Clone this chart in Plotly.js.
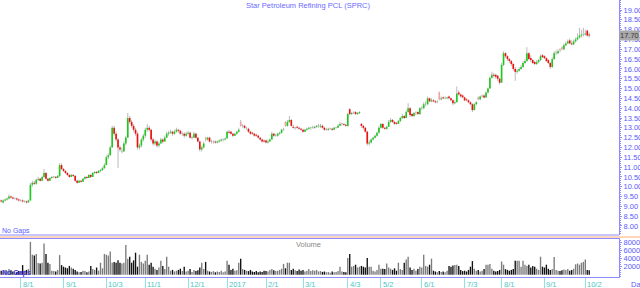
<!DOCTYPE html>
<html><head><meta charset="utf-8">
<script src="https://cdn.plot.ly/plotly-3.0.1.min.js"></script>
<style>html,body{margin:0;padding:0;background:#fff;overflow:hidden}#chart{width:640px;height:288px}</style>
</head><body><div id="chart"></div>
<script>
// ---------------- DATA ----------------
const chartTitle = 'Star Petroleum Refining PCL (SPRC)';
const startDate = '2016-07-14';
const holidays = ['2016-07-19','2016-07-20','2016-08-12','2016-10-24','2016-12-05','2016-12-12',
  '2017-01-02','2017-01-03','2017-02-13','2017-04-06','2017-04-13','2017-04-14','2017-05-01',
  '2017-05-10','2017-07-10','2017-07-28','2017-08-14'];
const lastPrice = 17.70;

const open = [
 9.30,9.20,9.30,9.35,9.40,9.50,9.45,9.40,9.40,9.35,
 9.30,9.30,9.25,9.25,9.20,9.30,10.10,10.20,10.15,10.35,
 10.40,10.30,10.50,10.70,10.40,10.30,10.45,10.50,10.50,10.45,
 10.55,11.10,10.90,10.80,10.70,10.60,10.50,10.60,10.55,10.30,
 10.20,10.30,10.25,10.40,10.50,10.45,10.60,10.50,10.70,10.75,
 10.70,10.80,10.85,10.95,11.10,11.50,11.60,12.00,13.00,12.70,
 12.40,12.00,11.80,11.80,12.20,12.50,13.50,13.30,13.10,12.90,
 12.70,12.00,12.10,12.40,12.60,12.90,13.00,12.90,12.40,12.20,
 12.30,12.10,12.20,12.40,12.30,12.50,12.70,12.75,12.80,12.70,
 12.80,12.90,12.85,12.70,12.70,12.60,12.70,12.75,12.50,12.50,
 12.70,12.50,12.30,11.90,12.00,12.50,12.40,12.50,12.30,12.30,
 12.30,12.25,12.30,12.35,12.40,12.40,12.45,12.80,12.80,12.70,
 12.60,12.70,12.80,13.30,13.10,13.10,12.90,12.95,12.80,12.75,
 12.70,12.65,12.60,12.50,12.40,12.35,12.35,12.25,12.30,12.40,
 12.70,12.60,12.60,12.70,12.75,12.90,13.30,13.10,13.30,13.40,
 13.05,13.00,13.05,13.00,12.95,12.90,12.80,12.90,12.95,13.00,
 13.00,13.00,13.05,13.10,13.05,13.10,13.00,12.90,12.90,12.95,
 12.95,12.90,13.00,13.00,13.10,13.20,13.20,13.15,13.10,13.95,
 13.70,13.75,13.80,13.70,13.75,13.20,13.10,13.00,12.80,12.20,
 12.25,12.40,12.50,12.60,12.75,13.00,13.20,13.00,12.95,13.05,
 13.30,13.40,13.30,13.25,13.20,13.35,13.50,13.60,13.50,13.80,
 14.00,13.70,13.60,13.75,13.80,13.70,14.00,14.00,14.20,14.20,
 14.50,14.35,14.40,14.35,14.30,14.80,14.45,14.55,14.50,14.50,
 14.60,14.50,14.40,14.25,14.30,14.80,14.70,14.65,14.55,14.45,
 14.40,14.30,14.20,13.90,14.20,14.55,14.45,14.60,14.65,14.55,
 14.80,15.00,15.55,15.70,15.70,15.65,15.50,15.30,16.20,16.80,
 16.65,16.50,16.40,16.25,16.00,15.85,15.90,16.00,16.10,16.30,
 16.40,16.80,16.55,16.45,16.35,16.25,16.35,16.45,16.70,16.65,
 16.55,16.45,16.30,16.10,16.50,16.80,16.80,17.00,17.10,17.00,
 17.20,17.30,17.45,17.30,17.25,17.40,17.50,17.60,17.70,17.75,
 17.75,17.95,17.75];
const high = [
 9.35,9.35,9.40,9.45,9.60,9.55,9.50,9.45,9.45,9.40,
 9.35,9.35,9.30,9.30,9.35,10.20,10.30,10.30,10.40,10.50,
 10.45,10.55,10.90,10.75,10.45,10.50,10.55,10.55,10.55,10.60,
 11.20,11.20,10.95,10.85,10.75,10.65,10.65,10.65,10.60,10.35,
 10.35,10.35,10.45,10.55,10.55,10.65,10.65,10.75,10.80,10.80,
 10.85,10.90,11.00,11.20,11.60,11.70,12.10,13.10,13.10,12.80,
 12.50,12.10,12.00,12.30,12.60,13.75,13.60,13.40,13.20,13.00,
 12.80,12.20,12.50,12.70,13.00,13.20,13.10,12.95,12.50,12.40,
 12.35,12.30,12.50,12.45,12.60,12.80,12.85,12.90,12.85,12.90,
 13.00,12.95,12.90,12.80,12.75,12.80,12.85,12.80,12.60,12.80,
 12.75,12.55,12.35,12.10,12.30,12.55,12.55,12.55,12.40,12.35,
 12.35,12.35,12.40,12.45,12.45,12.50,12.85,12.90,12.85,12.75,
 12.75,12.85,13.00,13.40,13.20,13.15,13.05,13.00,12.85,12.80,
 12.75,12.70,12.65,12.55,12.45,12.40,12.40,12.40,12.45,12.80,
 12.75,12.70,12.75,12.80,12.95,13.00,13.35,13.40,13.60,13.45,
 13.15,13.05,13.10,13.05,13.00,12.95,12.95,13.00,13.05,13.05,
 13.10,13.10,13.15,13.20,13.20,13.15,13.05,13.00,13.00,13.00,
 13.00,13.05,13.05,13.20,13.30,13.25,13.25,13.20,13.75,14.00,
 13.80,13.85,13.85,13.80,13.85,13.25,13.15,13.05,12.85,12.35,
 12.45,12.55,12.65,12.80,13.10,13.25,13.25,13.05,13.10,13.40,
 13.50,13.45,13.35,13.30,13.40,13.55,13.70,13.65,13.90,14.25,
 14.05,13.75,13.80,13.85,13.85,14.05,14.10,14.30,14.35,14.60,
 14.55,14.50,14.45,14.40,14.40,14.85,14.60,14.60,14.60,14.60,
 14.65,14.55,14.45,14.40,15.10,14.90,14.75,14.70,14.60,14.50,
 14.45,14.35,14.25,14.25,14.35,14.60,14.65,14.70,14.70,14.85,
 15.05,15.60,15.85,15.80,15.75,15.70,15.55,16.30,16.90,16.85,
 16.70,16.55,16.45,16.30,16.10,16.00,16.10,16.20,16.40,16.50,
 17.10,16.85,16.70,16.50,16.40,16.45,16.50,16.75,16.75,16.70,
 16.60,16.50,16.35,16.60,16.90,16.95,17.00,17.05,17.15,17.30,
 17.40,17.50,17.55,17.45,17.50,17.60,17.80,18.10,18.00,18.10,
 18.00,18.00,17.85];
const low = [
 9.20,9.15,9.25,9.30,9.35,9.40,9.35,9.35,9.30,9.25,
 9.25,9.20,9.20,9.15,9.20,9.30,10.00,10.10,10.10,10.30,
 10.25,10.30,10.45,10.35,10.25,10.30,10.40,10.45,10.40,10.45,
 10.50,10.85,10.75,10.65,10.55,10.45,10.50,10.50,10.25,10.15,
 10.20,10.20,10.25,10.35,10.40,10.45,10.45,10.50,10.65,10.65,
 10.70,10.75,10.80,10.90,11.10,11.40,11.60,12.00,12.60,12.30,
 10.95,11.80,11.70,11.80,12.10,12.50,13.20,13.00,12.80,12.60,
 11.90,11.90,12.00,12.30,12.50,12.80,12.80,12.30,12.10,12.10,
 12.00,12.00,12.20,12.20,12.30,12.50,12.60,12.70,12.60,12.65,
 12.75,12.75,12.65,12.60,12.50,12.55,12.65,12.45,12.40,12.50,
 12.45,12.25,11.80,11.80,11.95,12.30,12.35,12.25,12.20,12.20,
 12.20,12.20,12.25,12.30,12.30,12.35,12.45,12.70,12.65,12.55,
 12.60,12.65,12.75,13.05,13.00,12.95,12.90,12.75,12.65,12.65,
 12.55,12.55,12.45,12.35,12.25,12.25,12.20,12.20,12.30,12.40,
 12.55,12.55,12.55,12.65,12.70,12.85,13.05,13.05,13.25,13.05,
 12.95,12.90,12.95,12.90,12.85,12.75,12.80,12.85,12.90,12.90,
 12.95,12.95,13.00,13.00,13.00,12.95,12.85,12.85,12.85,12.90,
 12.85,12.90,12.95,13.00,13.10,13.10,13.10,13.05,13.05,13.65,
 13.65,13.70,13.65,13.65,13.70,13.00,12.90,12.75,12.10,12.10,
 12.20,12.35,12.45,12.55,12.70,12.95,12.95,12.90,12.90,13.05,
 13.25,13.25,13.15,13.15,13.20,13.30,13.45,13.45,13.50,13.75,
 13.55,13.55,13.55,13.65,13.65,13.65,13.90,13.95,14.10,14.15,
 14.30,14.30,14.30,14.25,14.25,14.40,14.40,14.45,14.45,14.45,
 14.45,14.35,14.15,14.20,14.30,14.65,14.55,14.50,14.35,14.35,
 14.25,14.15,13.80,13.90,14.15,14.40,14.40,14.55,14.50,14.55,
 14.75,15.00,15.50,15.55,15.50,15.40,15.20,15.30,16.15,16.55,
 16.40,16.30,16.15,15.90,15.40,15.75,15.85,15.95,16.05,16.25,
 16.35,16.45,16.35,16.25,16.20,16.20,16.30,16.40,16.55,16.50,
 16.35,16.25,16.00,16.05,16.45,16.70,16.75,16.85,16.95,16.95,
 17.15,17.25,17.25,17.20,17.20,17.35,17.45,17.55,17.60,17.65,
 17.70,17.65,17.60];
const close = [
 9.25,9.30,9.35,9.40,9.50,9.45,9.40,9.40,9.35,9.30,
 9.30,9.25,9.25,9.20,9.30,10.10,10.20,10.15,10.35,10.40,
 10.30,10.50,10.70,10.40,10.30,10.45,10.50,10.50,10.45,10.55,
 11.10,10.90,10.80,10.70,10.60,10.50,10.60,10.55,10.30,10.20,
 10.30,10.25,10.40,10.50,10.45,10.60,10.50,10.70,10.75,10.70,
 10.80,10.85,10.95,11.10,11.50,11.60,12.00,13.00,12.70,12.40,
 12.00,11.90,11.80,12.20,12.50,13.50,13.30,13.10,12.90,12.70,
 12.00,12.10,12.40,12.60,12.90,13.00,12.90,12.40,12.20,12.30,
 12.10,12.20,12.40,12.30,12.50,12.70,12.75,12.80,12.70,12.80,
 12.90,12.85,12.70,12.70,12.60,12.70,12.75,12.50,12.50,12.70,
 12.50,12.30,11.90,12.00,12.20,12.40,12.50,12.30,12.30,12.30,
 12.25,12.30,12.35,12.40,12.40,12.45,12.80,12.75,12.70,12.60,
 12.70,12.80,12.90,13.10,13.10,13.00,12.95,12.80,12.70,12.70,
 12.60,12.60,12.50,12.40,12.30,12.30,12.25,12.30,12.40,12.70,
 12.60,12.60,12.70,12.75,12.90,12.90,13.10,13.30,13.40,13.10,
 13.00,13.00,13.00,12.95,12.90,12.80,12.90,12.95,13.00,13.00,
 13.00,13.05,13.10,13.10,13.10,13.00,12.90,12.90,12.95,12.95,
 12.90,13.00,13.00,13.10,13.20,13.20,13.15,13.10,13.70,13.70,
 13.75,13.75,13.70,13.75,13.80,13.10,13.00,12.80,12.20,12.25,
 12.40,12.50,12.60,12.75,13.00,13.20,13.00,12.95,13.05,13.30,
 13.40,13.30,13.20,13.20,13.35,13.50,13.60,13.50,13.80,14.00,
 13.65,13.60,13.75,13.75,13.70,14.00,14.00,14.20,14.20,14.50,
 14.35,14.40,14.35,14.30,14.30,14.45,14.50,14.50,14.50,14.55,
 14.50,14.40,14.25,14.30,14.75,14.70,14.60,14.55,14.40,14.40,
 14.30,14.20,13.90,14.20,14.30,14.45,14.60,14.60,14.55,14.80,
 15.00,15.55,15.70,15.65,15.60,15.50,15.30,16.20,16.80,16.65,
 16.50,16.40,16.25,16.00,15.85,15.90,16.00,16.10,16.30,16.40,
 16.80,16.50,16.45,16.30,16.25,16.35,16.45,16.65,16.60,16.55,
 16.40,16.30,16.10,16.50,16.80,16.80,16.90,16.95,17.00,17.20,
 17.30,17.40,17.30,17.25,17.40,17.50,17.60,17.70,17.75,17.75,
 17.80,17.70,17.70];
const volume = [
 10000,8000,12000,9000,14000,11000,8000,6000,7000,9000,
 8000,24000,10000,12000,14000,82000,50000,48000,52000,29000,
 28000,30000,78000,52000,30000,27000,10000,9000,8000,12000,
 49000,24000,20000,18000,16000,22000,18000,15000,12000,8000,
 6000,7000,10000,9000,6000,8000,22000,14000,12000,18000,
 10000,30000,16000,52000,50000,48000,58000,30000,32000,30000,
 36000,30000,28000,30000,74000,40000,45000,30000,36000,55000,
 20000,50000,32000,28000,35000,50000,25000,30000,20000,15000,
 12000,18000,35000,22000,14000,45000,20000,10000,12000,8000,
 10000,12000,15000,9000,20000,8000,10000,14000,7000,12000,
 9000,11000,18000,30000,14000,32000,10000,8000,7000,9000,
 6000,8000,7000,10000,6000,8000,35000,25000,12000,15000,
 10000,11000,30000,40000,14000,12000,10000,9000,12000,8000,
 7000,9000,6000,8000,7000,10000,9000,8000,12000,14000,
 11000,9000,10000,12000,15000,27000,16000,30000,30000,12000,
 15000,11000,9000,13000,10000,12000,8000,10000,14000,9000,
 11000,10000,12000,8000,9000,7000,8000,6000,7000,5000,
 8000,6000,7000,9000,20000,8000,7000,6000,42000,52000,
 20000,22000,25000,18000,20000,22000,20000,18000,42000,20000,
 20000,10000,8000,12000,25000,15000,15000,14000,28000,18000,
 15000,12000,16000,10000,30000,14000,12000,30000,38000,45000,
 18000,12000,15000,10000,14000,20000,18000,50000,22000,20000,
 25000,40000,10000,8000,6000,9000,7000,8000,6000,10000,
 22000,20000,23000,24000,25000,22000,12000,9000,10000,8000,
 12000,20000,34000,15000,10000,12000,8000,10000,14000,25000,
 25000,27000,15000,10000,8000,9000,12000,33000,25000,14000,
 12000,10000,12000,14000,35000,35000,35000,20000,35000,25000,
 22000,25000,18000,22000,20000,15000,12000,45000,20000,18000,
 25000,15000,12000,14000,44000,12000,10000,9000,11000,13000,
 12000,14000,10000,12000,15000,26000,28000,25000,30000,32000,
 38000,12000,11000];

// ---------------- BUILD ----------------
const dates = [];
{
  const d = new Date(startDate + 'T00:00:00Z');
  while (dates.length < close.length) {
    const iso = d.toISOString().slice(0, 10);
    const wd = d.getUTCDay();
    if (wd !== 0 && wd !== 6 && !holidays.includes(iso)) dates.push(iso);
    d.setUTCDate(d.getUTCDate() + 1);
  }
}
const idx = dates.map((_, i) => i);
const tickIdx = [], tickText = [];
for (let i = 1; i < dates.length; i++) {
  if (dates[i].slice(5, 7) !== dates[i - 1].slice(5, 7)) {
    const m = +dates[i].slice(5, 7), dd = +dates[i].slice(8, 10);
    tickIdx.push(i);
    tickText.push(m === 1 ? dates[i].slice(0, 4) : m + '/' + dd);
  }
}

const bodyBase = idx.map(i => Math.min(open[i], close[i]));
const bodyLen = idx.map(i => Math.max(Math.abs(close[i] - open[i]), 0.03));
const bodyColor = idx.map(i => {
  const o = open[i], c = close[i], p = i > 0 ? close[i - 1] : o;
  if (c > o) return c >= p ? '#1fc81f' : '#9ee49e';
  if (c < o) return c <= p ? '#ee1010' : '#f6a0a0';
  return '#a8a8a8';
});
const wickLen = idx.map(i => high[i] - low[i]);
const volColor = idx.map(i => close[i] >= open[i] ? '#7c7c7c' : '#111111');

const plotW = 619, plotH = 277;
const mainBottomPx = 235, volTopPx = 239;
const priceTicks = [];
for (let v = 8; v <= 19.001; v += 0.5) priceTicks.push(+v.toFixed(2));

const blue = '#8c8cff', labelBlue = '#5a5aff';

const traces = [
  {type: 'bar', x: idx, y: wickLen, base: low, width: 0.5, xaxis: 'x', yaxis: 'y',
   marker: {color: '#b9b9b9', line: {width: 0}}, hoverinfo: 'skip'},
  {type: 'bar', x: idx, y: bodyLen, base: bodyBase, width: 0.85, xaxis: 'x', yaxis: 'y',
   marker: {color: bodyColor, line: {width: 0}}, hoverinfo: 'skip'},
  {type: 'bar', x: idx, y: volume, width: 0.7, xaxis: 'x', yaxis: 'y2',
   marker: {color: volColor, line: {width: 0}}, hoverinfo: 'skip'}
];

const annotations = tickIdx.map((t, k) => ({
  x: t, xref: 'x', y: 0, yref: 'paper', xanchor: 'left', yanchor: 'top', yshift: -1, xshift: 0,
  text: tickText[k], showarrow: false, font: {size: 7.5, color: '#4cc6c6'}
}));
annotations.push(
  {x: 629 / plotW, xref: 'paper', y: 0, yref: 'paper', xanchor: 'left', yanchor: 'top', yshift: -1,
   text: 'Date', showarrow: false, font: {size: 7.5, color: labelBlue}},
  {x: 0, xref: 'paper', y: 1 - 231 / plotH, yref: 'paper', xanchor: 'left', yanchor: 'middle',
   text: 'No Gaps', showarrow: false, font: {size: 7, color: labelBlue}},
  {x: 0, xref: 'paper', y: 1 - 273 / plotH, yref: 'paper', xanchor: 'left', yanchor: 'middle',
   text: '<b>No Gaps</b>', showarrow: false, font: {size: 7, color: '#3b3bd8'}},
  {x: 308 / plotW, xref: 'paper', y: 1 - 244 / plotH, yref: 'paper', xanchor: 'center', yanchor: 'middle',
   text: 'Volume', showarrow: false, font: {size: 7.5, color: '#8a8a8a'}},
  {x: 1, xref: 'paper', y: lastPrice, yref: 'y', xanchor: 'left', yanchor: 'middle',
   text: lastPrice.toFixed(2), showarrow: false, bgcolor: '#a9a9a9', borderpad: 0,
   font: {size: 7.5, color: '#3a3a3a'}}
);

const layout = {
  width: 640, height: 288,
  margin: {l: 0, r: 21, t: 0, b: 11, pad: 0},
  paper_bgcolor: '#ffffff', plot_bgcolor: '#ffffff',
  font: {family: 'Liberation Sans, Arial, sans-serif', size: 7, color: labelBlue},
  showlegend: false, barmode: 'overlay', hovermode: false,
  title: {text: chartTitle, x: 308 / 640, xanchor: 'center', y: 1 - 5 / 288, yanchor: 'middle',
          font: {size: 7.5, color: '#6b6bff'}},
  xaxis: {range: [-0.62, 317.3], anchor: 'y2', showgrid: false, zeroline: false,
          showline: true, linecolor: blue, linewidth: 1, mirror: true,
          ticks: 'outside', ticklen: 11, tickwidth: 1, tickcolor: '#8ee4e4',
          tickmode: 'array', tickvals: tickIdx, showticklabels: false, fixedrange: true},
  yaxis: {domain: [1 - mainBottomPx / plotH, 1], range: [7.5414, 19.5093], side: 'right', anchor: 'x',
          showgrid: false, zeroline: false, showline: true, linecolor: blue, linewidth: 1,
          tickmode: 'array', tickvals: priceTicks, tickformat: '.2f',
          ticks: 'outside', ticklen: 2, tickcolor: blue,
          minor: {ticks: 'outside', dtick: 0.1, ticklen: 1, tickcolor: blue},
          tickfont: {size: 7.5, color: labelBlue}, fixedrange: true},
  yaxis2: {domain: [0, 1 - volTopPx / plotH], range: [-5750, 89250], side: 'right', anchor: 'x',
          showgrid: false, zeroline: false, showline: true, linecolor: blue, linewidth: 1,
          tickmode: 'array', tickvals: [20000, 40000, 60000, 80000], tickformat: 'd',
          ticks: 'outside', ticklen: 2, tickcolor: blue,
          minor: {ticks: 'outside', dtick: 5000, ticklen: 1, tickcolor: blue},
          tickfont: {size: 7.5, color: labelBlue}, fixedrange: true},
  shapes: [
    {type: 'line', xref: 'paper', yref: 'paper', x0: 0, x1: 1,
     y0: 1 - mainBottomPx / plotH, y1: 1 - mainBottomPx / plotH, line: {color: blue, width: 1}},
    {type: 'line', xref: 'paper', yref: 'paper', x0: 0, x1: 640 / plotW,
     y0: 1 - 237 / plotH, y1: 1 - 237 / plotH, line: {color: '#ffab78', width: 1}}
  ],
  annotations: annotations
};

Plotly.newPlot('chart', traces, layout, {displayModeBar: false, staticPlot: true});
</script>
</body></html>
